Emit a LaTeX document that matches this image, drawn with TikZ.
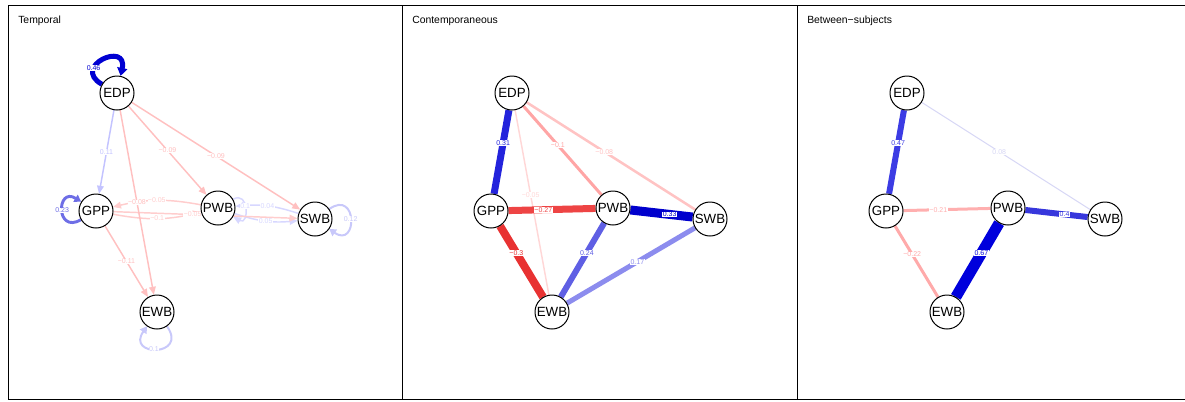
\documentclass[tikz,border=0pt]{standalone}
\usepackage{fontspec}
\setmainfont{Liberation Sans}
\usetikzlibrary{arrows.meta}
\pgfdeclarelayer{bg}
\pgfsetlayers{bg,main}
% temporal colours
\definecolor{tB}{RGB}{195,195,255}
\definecolor{tP}{RGB}{255,192,192}
\definecolor{tPL}{RGB}{255,205,205}
\definecolor{tBL}{RGB}{215,215,255}
\definecolor{tBL2}{RGB}{200,200,250}
\definecolor{tBM}{RGB}{110,110,230}
\definecolor{tBD}{RGB}{0,0,210}
% contemporaneous colours
\definecolor{cEG}{RGB}{35,35,220}
\definecolor{cEP}{RGB}{255,165,165}
\definecolor{cES}{RGB}{255,195,195}
\definecolor{cEW}{RGB}{255,215,215}
\definecolor{cGP}{RGB}{238,68,68}
\definecolor{cGW}{RGB}{232,50,50}
\definecolor{cPS}{RGB}{0,0,205}
\definecolor{cPW}{RGB}{95,95,228}
\definecolor{cSW}{RGB}{140,140,238}
% between colours
\definecolor{bEG}{RGB}{60,60,228}
\definecolor{bES}{RGB}{215,215,245}
\definecolor{bGP}{RGB}{255,175,175}
\definecolor{bGW}{RGB}{255,170,170}
\definecolor{bPS}{RGB}{55,55,220}
\definecolor{bPW}{RGB}{0,0,220}
\begin{document}
\begin{tikzpicture}[x=0.75pt,y=0.75pt,
  vnode/.style={circle,draw=black,line width=0.75pt,fill=white,minimum size=25.5pt,inner sep=0pt,font=\fontsize{10}{12}\selectfont},
  elab/.style={fill=white,inner sep=0.3pt,font=\fontsize{5.25}{6}\selectfont},
  ttl/.style={anchor=base west,inner sep=0pt,font=\fontsize{7.8}{9}\selectfont},
  tarr/.style={-{Triangle[length=6pt,width=5pt]}},
  larr/.style={-{Triangle[length=6pt,width=7.5pt]}},
  marr/.style={-{Triangle[length=5pt,width=6pt]}},
  frame/.style={line width=0.75pt,draw=black}
]
\useasboundingbox (0,0) rectangle (1185,-401);
\draw[frame] (8,-5) -- (1190,-5);
\draw[frame] (8,-399) -- (1190,-399);
\draw[frame] (8,-5) -- (8,-399);
\draw[frame] (402,-5) -- (402,-399);
\draw[frame] (797,-5) -- (797,-399);
\node[ttl] (title1) at (18,-23) {Temporal};
\node[ttl] (title2) at (412,-23) {Contemporaneous};
\node[ttl] (title3) at (807,-23) {Between−subjects};

% ---------- nodes ----------
\node[vnode] (tEDP) at (117,-93) {EDP};
\node[vnode] (tGPP) at (96,-211) {GPP};
\node[vnode] (tPWB) at (218,-208) {PWB};
\node[vnode] (tSWB) at (315,-219) {SWB};
\node[vnode] (tEWB) at (157,-312) {EWB};

\node[vnode] (cEDP) at (512,-93) {EDP};
\node[vnode] (cGPP) at (491,-211) {GPP};
\node[vnode] (cPWB) at (613,-208) {PWB};
\node[vnode] (cSWB) at (710,-219) {SWB};
\node[vnode] (cEWB) at (552,-312) {EWB};

\node[vnode] (bEDP) at (907,-93) {EDP};
\node[vnode] (bGPP) at (886,-211) {GPP};
\node[vnode] (bPWB) at (1008,-208) {PWB};
\node[vnode] (bSWB) at (1105,-219) {SWB};
\node[vnode] (bEWB) at (947,-312) {EWB};

\begin{pgfonlayer}{bg}
% ---------- temporal ----------
\draw[tarr,tBL,line width=1.1pt] (tSWB) to[bend right=12] node[elab]{0.04} (tPWB);
\draw[tarr,tBL,line width=1.1pt] (tPWB) to[bend right=12] node[elab]{0.05} (tSWB);
\draw[tarr,tBL,line width=1.1pt] (tPWB) to[out=30,in=-30,distance=14pt] node[elab,pos=0.45]{0.1} (tPWB);
\draw[tarr,tPL,line width=1.1pt] (tPWB) to[bend right=12] node[elab]{−0.05} (tGPP);
\draw[tarr,tPL,line width=1.1pt] (tGPP) to[bend right=12] node[elab]{−0.1} (tPWB);
\draw[tarr,tPL,line width=1.1pt] (tGPP) -- node[elab,pos=0.43]{−0.05} (tSWB);
\draw[tarr,tB,line width=1.1pt] (tEDP) -- node[elab]{0.11} (tGPP);
\draw[tarr,tP,line width=1.1pt] (tEDP) -- node[elab]{−0.09} (tPWB);
\draw[tarr,tP,line width=1.1pt] (tEDP) -- node[elab]{−0.09} (tSWB);
\draw[tarr,tP,line width=1.1pt] (tGPP) -- node[elab]{−0.11} (tEWB);
\draw[tarr,tP,line width=1.1pt] (tEDP) -- node[elab]{−0.08} (tEWB);
\draw[marr,tBL2,line width=1.5pt] (tSWB) to[out=35,in=-35,distance=26pt] node[elab]{0.12} (tSWB);
\draw[marr,tBL2,line width=1.5pt] (tEWB) to[out=-55,in=-125,distance=28pt] node[elab,pos=0.55]{0.1} (tEWB);
\draw[marr,tBM,line width=2.2pt] (tGPP) to[out=210,in=148,distance=22pt] node[elab]{0.23} (tGPP);
\draw[larr,tBD,line width=3.75pt] (tEDP) to[out=150,in=78,distance=27pt] node[elab,pos=0.3]{0.46} (tEDP);

% ---------- contemporaneous ----------
\draw[cEW,line width=1.1pt] (cEDP) -- node[elab,pos=0.46]{−0.05} (cEWB);
\draw[cES,line width=1.9pt] (cEDP) -- node[elab,pos=0.46]{−0.08} (cSWB);
\draw[cEP,line width=2.25pt] (cEDP) -- node[elab,pos=0.44]{−0.1} (cPWB);
\draw[cSW,line width=3.75pt] (cSWB) -- node[elab,pos=0.45]{0.17} (cEWB);
\draw[cPW,line width=4.5pt] (cPWB) -- node[elab,pos=0.40]{0.24} (cEWB);
\draw[cEG,line width=5.25pt] (cEDP) -- node[elab,pos=0.39]{0.31} (cGPP);
\draw[cGP,line width=5.25pt] (cGPP) -- node[elab,pos=0.40]{−0.27} (cPWB);
\draw[cGW,line width=6pt] (cGPP) -- node[elab,pos=0.38]{−0.3} (cEWB);
\draw[cPS,line width=6.75pt] (cPWB) -- node[elab,pos=0.63]{0.33} (cSWB);

% ---------- between ----------
\draw[bES,line width=0.75pt] (bEDP) -- node[elab,pos=0.46]{0.08} (bSWB);
\draw[bGP,line width=2.25pt] (bGPP) -- node[elab,pos=0.40]{−0.21} (bPWB);
\draw[bGW,line width=2.25pt] (bGPP) -- node[elab,pos=0.40]{−0.22} (bEWB);
\draw[bEG,line width=4.5pt] (bEDP) -- node[elab,pos=0.39]{0.47} (bGPP);
\draw[bPS,line width=4.5pt] (bPWB) -- node[elab,pos=0.63]{0.4} (bSWB);
\draw[bPW,line width=8.25pt] (bPWB) -- node[elab,pos=0.41]{0.67} (bEWB);
\end{pgfonlayer}
\end{tikzpicture}
\end{document}
